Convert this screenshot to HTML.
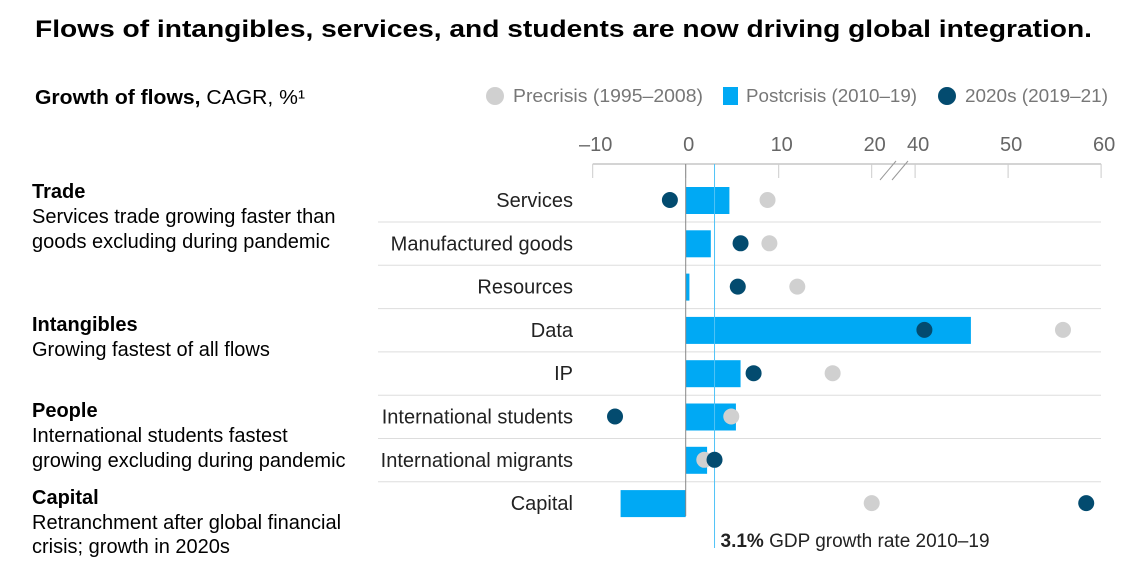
<!DOCTYPE html>
<html><head><meta charset="utf-8"><style>
body{margin:0;background:#fff;}
svg{display:block;font-family:"Liberation Sans",sans-serif;}
</style></head><body>
<svg id="chart" width="1143" height="573">
<text x="35" y="37" font-size="24" font-weight="bold" fill="#000" textLength="1057" lengthAdjust="spacingAndGlyphs">Flows of intangibles, services, and students are now driving global integration.</text>
<text x="35" y="104" font-size="20" fill="#000" textLength="270" lengthAdjust="spacingAndGlyphs"><tspan font-weight="bold">Growth of flows,</tspan> CAGR, %¹</text>
<g font-size="18" fill="#777">
<circle cx="495" cy="96" r="9" fill="#d0d0d0"/>
<text x="513" y="102" textLength="190" lengthAdjust="spacingAndGlyphs">Precrisis (1995–2008)</text>
<rect x="723" y="87" width="15" height="18" fill="#00a9f4"/>
<text x="746" y="102" textLength="171" lengthAdjust="spacingAndGlyphs">Postcrisis (2010–19)</text>
<circle cx="947" cy="96" r="9" fill="#034b6f"/>
<text x="965" y="102" textLength="143" lengthAdjust="spacingAndGlyphs">2020s (2019–21)</text>
</g>
<g font-size="20" fill="#000">
<text x="32" y="198" font-weight="bold">Trade</text>
<text x="32" y="223">Services trade growing faster than</text>
<text x="32" y="248">goods excluding during pandemic</text>
<text x="32" y="331" font-weight="bold">Intangibles</text>
<text x="32" y="356">Growing fastest of all flows</text>
<text x="32" y="417" font-weight="bold">People</text>
<text x="32" y="442">International students fastest</text>
<text x="32" y="467">growing excluding during pandemic</text>
<text x="32" y="504" font-weight="bold">Capital</text>
<text x="32" y="529">Retranchment after global financial</text>
<text x="32" y="553">crisis; growth in 2020s</text>
</g>
<g id="plot"></g>
</svg>
<script>
const categories=["Services","Manufactured goods","Resources","Data","IP","International students","International migrants","Capital"];
const postcrisis=[4.7,2.7,0.4,46,5.9,5.4,2.3,-7];
const precrisis=[8.8,9,12,55.9,15.8,4.9,2.0,20];
const recent=[-1.7,5.9,5.6,41,7.3,-7.6,3.1,58.4];
const tickValues=[-10,0,10,20,40,50,60];
const tickLabels=["–10","0","10","20","40","50","60"];
const gdp=3.1;
const NS="http://www.w3.org/2000/svg";
const g=document.getElementById('plot');
function x(v){return v<=30?685.7+v*9.3:915.1+(v-40)*9.3;}
function y(i){return 200+i*43.3;}
function mk(t,a,p){const e=document.createElementNS(NS,t);for(const k in a)e.setAttribute(k,a[k]);(p||g).appendChild(e);return e;}
let ax=mk('line',{x1:x(-10),x2:x(60),y1:164,y2:164,stroke:'#aaa','stroke-width':1});


tickValues.forEach((v,i)=>{
 let t=mk('line',{x1:x(v),x2:x(v),y1:164,y2:178,stroke:'#ccc'});
 
 
 let l=mk('text',{x:x(v)+3,y:151,'text-anchor':'middle','font-size':20,fill:'#666'});
 l.textContent=tickLabels[i];
 
 
});
let b1=mk('line',{x1:880,y1:180,x2:896,y2:161,stroke:'#999'});


let b2=mk('line',{x1:892,y1:180,x2:908,y2:161,stroke:'#999'});


for(let i=0;i<categories.length-1;i++){
 let s=mk('line',{x1:378,x2:1101,y1:y(i)+22,y2:y(i)+22,stroke:'#ddd'});
 
 
}
categories.forEach((c,i)=>{
 let l=mk('text',{x:573,y:y(i)+7,'text-anchor':'end','font-size':20,fill:'#222'});
 l.textContent=c;
 
 
 const v=postcrisis[i];
 let r=mk('rect',{x:Math.min(x(0),x(v)),y:y(i)-13,width:Math.abs(x(v)-x(0)),height:27,fill:'#00a9f4'});
 
 
});
let z=mk('line',{x1:x(0),x2:x(0),y1:164,y2:516,stroke:'#888'});


let gl=mk('line',{x1:x(gdp),x2:x(gdp),y1:164,y2:548,stroke:'#4fc3f7'});


categories.forEach((c,i)=>{
 let p=mk('circle',{cx:x(precrisis[i]),cy:y(i),r:8,fill:'#d0d0d0'});
 
 
 let d=mk('circle',{cx:x(recent[i]),cy:y(i),r:8,fill:'#034b6f'});
 
 
});
let gt=mk('text',{x:x(gdp)+6,y:547,'font-size':19,fill:'#222'});
gt.innerHTML='<tspan font-weight="bold">3.1%</tspan> GDP growth rate 2010–19';


</script>
</body></html>
